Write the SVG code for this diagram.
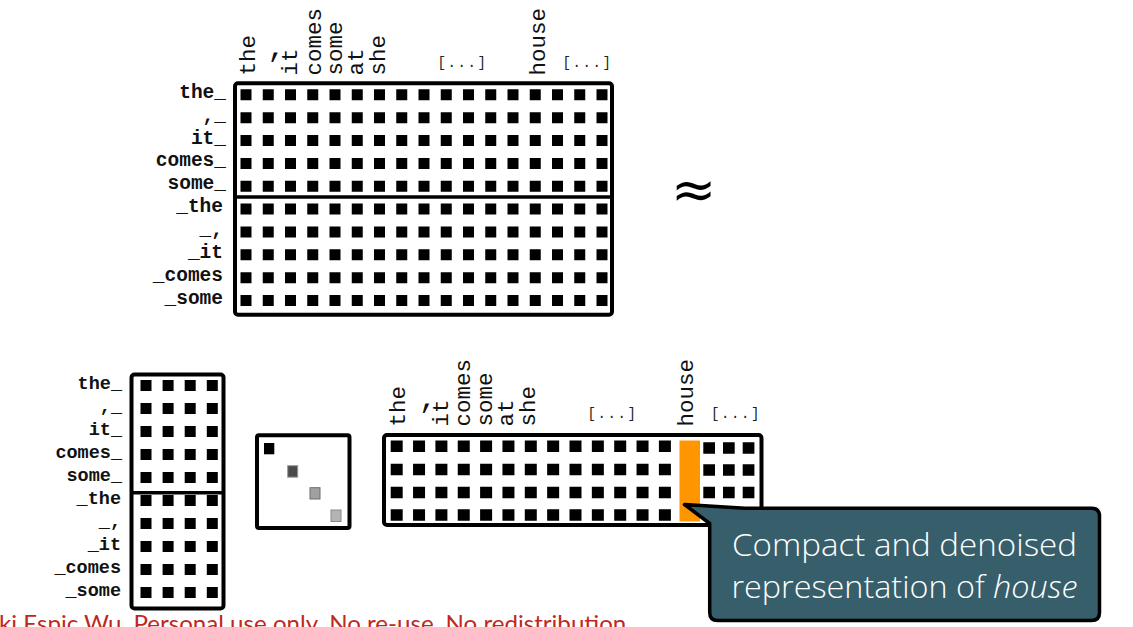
<svg xmlns="http://www.w3.org/2000/svg" width="1133" height="627" viewBox="0 0 1133 627">
<style>
.box{fill:#fff;stroke:#000;stroke-width:4}
.div{stroke:#000;stroke-width:3.5}
.row{stroke:#000;fill:none}
.col{font-family:"Liberation Mono","Courier New",monospace;font-size:22.5px;fill:#111}
.ell{font-family:"Liberation Mono","Courier New",monospace;font-size:14px;letter-spacing:1.6px;fill:#222}
.lab{font-family:"Liberation Mono","Courier New",monospace;font-weight:bold;fill:#111;text-anchor:end}
.lt{font-size:19.5px}
.lb{font-size:18.5px}
.call{font-family:"Open Sans",Lato,sans-serif;font-weight:300;font-size:31px;fill:#fff}
</style>

<g id="top-matrix">
  <rect class="box" x="235" y="83.3" width="377" height="231.4" rx="3"/>
  <line class="div" x1="235" y1="197" x2="612" y2="197"/>
  <g class="row" stroke-width="11" stroke-dasharray="11 11.25">
    <line x1="240.5" y1="94.8" x2="608" y2="94.8"/>
    <line x1="240.5" y1="117.7" x2="608" y2="117.7"/>
    <line x1="240.5" y1="140.5" x2="608" y2="140.5"/>
    <line x1="240.5" y1="163.4" x2="608" y2="163.4"/>
    <line x1="240.5" y1="186.2" x2="608" y2="186.2"/>
    <line x1="240.5" y1="209.1" x2="608" y2="209.1"/>
    <line x1="240.5" y1="232" x2="608" y2="232"/>
    <line x1="240.5" y1="254.8" x2="608" y2="254.8"/>
    <line x1="240.5" y1="277.7" x2="608" y2="277.7"/>
    <line x1="240.5" y1="300.5" x2="608" y2="300.5"/>
  </g>
  <g class="lab lt">
    <text x="226" y="98">the_</text>
    <text x="226" y="121">,_</text>
    <text x="226" y="143.5">it_</text>
    <text x="226" y="166.4">comes_</text>
    <text x="226" y="189.2">some_</text>
    <text x="223" y="212.1">_the</text>
    <text x="223" y="235">_,</text>
    <text x="223" y="257.8">_it</text>
    <text x="223" y="280.7">_comes</text>
    <text x="223" y="303.5">_some</text>
  </g>
  <g class="col">
    <text transform="translate(255,75.5) rotate(-90)">the</text>
    <text x="276.5" y="57" text-anchor="middle" font-size="30">,</text>
    <text transform="translate(297,75.5) rotate(-90)">it</text>
    <text transform="translate(321,75.5) rotate(-90)">comes</text>
    <text transform="translate(342,75.5) rotate(-90)">some</text>
    <text transform="translate(363,75.5) rotate(-90)">at</text>
    <text transform="translate(385,75.5) rotate(-90)">she</text>
    <text transform="translate(545,75.5) rotate(-90)">house</text>
  </g>
  <text class="ell" x="437.5" y="66.5">[...]</text>
  <text class="ell" x="562.5" y="66.5">[...]</text>
</g>

<g id="approx">
  <text x="693.5" y="208" text-anchor="middle" font-family="DejaVu Sans,sans-serif" font-size="54" fill="#000">≈</text>
</g>

<g id="left-matrix">
  <rect class="box" x="131.5" y="374.5" width="92" height="234" rx="3"/>
  <line class="div" x1="131.5" y1="492.8" x2="223.5" y2="492.8"/>
  <g class="row" stroke-width="11" stroke-dasharray="11 11.1">
    <line x1="140.5" y1="385.5" x2="218" y2="385.5"/>
    <line x1="140.5" y1="408.5" x2="218" y2="408.5"/>
    <line x1="140.5" y1="431.5" x2="218" y2="431.5"/>
    <line x1="140.5" y1="454.5" x2="218" y2="454.5"/>
    <line x1="140.5" y1="477.5" x2="218" y2="477.5"/>
    <line x1="140.5" y1="500.5" x2="218" y2="500.5"/>
    <line x1="140.5" y1="523.5" x2="218" y2="523.5"/>
    <line x1="140.5" y1="546.5" x2="218" y2="546.5"/>
    <line x1="140.5" y1="569.5" x2="218" y2="569.5"/>
    <line x1="140.5" y1="592.5" x2="218" y2="592.5"/>
  </g>
  <g class="lab lb">
    <text x="122" y="389">the_</text>
    <text x="122" y="412">,_</text>
    <text x="122" y="435">it_</text>
    <text x="122" y="458">comes_</text>
    <text x="122" y="481">some_</text>
    <text x="121" y="504">_the</text>
    <text x="121" y="527">_,</text>
    <text x="121" y="550">_it</text>
    <text x="121" y="573">_comes</text>
    <text x="121" y="596">_some</text>
  </g>
</g>

<g id="diag-matrix">
  <rect class="box" x="257" y="435.3" width="92.5" height="92.7" rx="2"/>
  <rect x="264" y="443" width="10.3" height="11.3" fill="#000"/>
  <rect x="287.7" y="465.7" width="10" height="11.5" fill="#4a4a4a" stroke="#9a9a9a" stroke-width="1"/>
  <rect x="310" y="487.7" width="10" height="11.3" fill="#a0a0a0" stroke="#6e6e6e" stroke-width="1"/>
  <rect x="331" y="510" width="10" height="11.5" fill="#b4b4b4" stroke="#8a8a8a" stroke-width="1"/>
</g>

<g id="right-matrix">
  <rect class="box" x="384" y="435" width="377.5" height="90" rx="3"/>
  <g class="row" stroke-width="11.5" stroke-dasharray="12 10.35">
    <line x1="390.7" y1="446.2" x2="671" y2="446.2"/>
    <line x1="390.7" y1="469.4" x2="671" y2="469.4"/>
    <line x1="390.7" y1="492.4" x2="671" y2="492.4"/>
    <line x1="390.7" y1="515" x2="671" y2="515"/>
  </g>
  <g class="row" stroke-width="11.5" stroke-dasharray="11.7 8">
    <line x1="703.3" y1="448" x2="755" y2="448"/>
    <line x1="703.3" y1="470" x2="755" y2="470"/>
    <line x1="703.3" y1="492.4" x2="755" y2="492.4"/>
  </g>
  <rect x="679.5" y="440.5" width="20.5" height="81" fill="#ff9600"/>
  <g class="col">
    <text transform="translate(405,426.5) rotate(-90)">the</text>
    <text x="428" y="408" text-anchor="middle" font-size="30">,</text>
    <text transform="translate(448,426.5) rotate(-90)">it</text>
    <text transform="translate(470,426.5) rotate(-90)">comes</text>
    <text transform="translate(492,426.5) rotate(-90)">some</text>
    <text transform="translate(513,426.5) rotate(-90)">at</text>
    <text transform="translate(535,426.5) rotate(-90)">she</text>
    <text transform="translate(693,426.5) rotate(-90)">house</text>
  </g>
  <text class="ell" x="587.5" y="418">[...]</text>
  <text class="ell" x="711" y="418">[...]</text>
</g>

<g id="callout">
  <path d="M684.5,504.5 L745,508.3 H1091.5 Q1099.5,508.3 1099.5,516.3 V612.5 Q1099.5,620.5 1091.5,620.5 H717.7 Q709.7,620.5 709.7,612.5 V523.5 Z" fill="#365e6b" stroke="#000" stroke-width="3.5" stroke-linejoin="round"/>
  <text class="call" x="732" y="555.5" textLength="345" lengthAdjust="spacingAndGlyphs">Compact and denoised</text>
  <text class="call" x="731.5" y="598" textLength="346" lengthAdjust="spacingAndGlyphs">representation of <tspan font-style="italic">house</tspan></text>
</g>

<text x="-1" y="632" font-family="Lato,'Open Sans',sans-serif" font-size="24" fill="#c0281e" textLength="633" lengthAdjust="spacingAndGlyphs">ki Espic Wu. Personal use only. No re-use. No redistribution.</text>
</svg>
